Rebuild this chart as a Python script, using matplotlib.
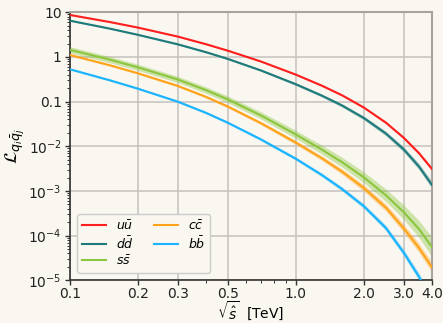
import numpy as np
import matplotlib
matplotlib.use("Agg")
import matplotlib.pyplot as plt
from matplotlib.ticker import FixedLocator, FixedFormatter, LogLocator, NullFormatter

# sqrt(s_hat) in TeV
x = [0.1, 0.15, 0.2, 0.3, 0.4, 0.5, 0.7, 1.0, 1.3, 1.6, 2.0, 2.5, 3.0, 3.5, 4.0]

# central luminosities
lum_uu = [8.71, 6.05, 4.54, 2.86, 1.93, 1.38, 0.792, 0.402, 0.229, 0.139, 0.0736, 0.0340, 0.01556, 0.00708, 0.00313]
lum_dd = [6.49, 4.31, 3.13, 1.92, 1.28, 0.904, 0.500, 0.245, 0.137, 0.0822, 0.0429, 0.0194, 0.00855, 0.00355, 0.00137]
lum_ss = [1.445, 0.871, 0.585, 0.313, 0.181, 0.112, 0.0491, 0.0184, 0.00849, 0.00442, 0.00202, 8.07e-4, 3.37e-4, 1.42e-4, 5.62e-5]
lum_cc = [1.107, 0.653, 0.431, 0.225, 0.128, 0.0776, 0.0330, 0.0121, 0.00545, 0.00272, 0.00116, 4.27e-4, 1.46e-4, 5.37e-5, 1.97e-5]
lum_bb = [0.530, 0.301, 0.195, 0.100, 0.0562, 0.0337, 0.0143, 0.00526, 0.0023, 0.00111, 4.56e-4, 1.49e-4, 4.18e-5, 1.22e-5, 3.66e-6]

# band half widths (decades)
err_uu = [0.01, 0.01, 0.01, 0.01, 0.012, 0.012, 0.014, 0.016, 0.018, 0.02, 0.022, 0.026, 0.03, 0.035, 0.04]
err_dd = [0.015, 0.015, 0.016, 0.017, 0.018, 0.02, 0.024, 0.028, 0.032, 0.036, 0.04, 0.048, 0.056, 0.065, 0.075]
err_ss = [0.07, 0.07, 0.07, 0.07, 0.072, 0.075, 0.08, 0.09, 0.1, 0.11, 0.12, 0.14, 0.16, 0.19, 0.22]
err_cc = [0.02, 0.02, 0.022, 0.025, 0.028, 0.03, 0.035, 0.045, 0.05, 0.06, 0.07, 0.08, 0.09, 0.1, 0.11]
err_bb = [0.02, 0.02, 0.02, 0.022, 0.024, 0.026, 0.03, 0.035, 0.04, 0.045, 0.05, 0.06, 0.07, 0.08, 0.09]

labels = [r'$u\bar{u}$', r'$d\bar{d}$', r'$s\bar{s}$', r'$c\bar{c}$', r'$b\bar{b}$']
colors = ['#ff1f1f', '#1f7b7b', '#8cc63f', '#ffa31a', '#1ab4ff']

xticks = [0.1, 0.2, 0.3, 0.5, 1.0, 2.0, 3.0, 4.0]
xticklabels = ['0.1', '0.2', '0.3', '0.5', '1.0', '2.0', '3.0', '4.0']
yticks = [1e-5, 1e-4, 1e-3, 1e-2, 0.1, 1, 10]
yticklabels = [r'$10^{-5}$', r'$10^{-4}$', r'$10^{-3}$', r'$10^{-2}$', '0.1', '1', '10']

bg = '#faf7f0'
fig = plt.figure(figsize=(4.43, 3.23), dpi=100, facecolor=bg)
ax = fig.add_axes([0.158, 0.132, 0.817, 0.830], facecolor=bg)

series = [(lum_uu, err_uu), (lum_dd, err_dd), (lum_ss, err_ss), (lum_cc, err_cc), (lum_bb, err_bb)]
for (lum, err), c, lab in zip(series, colors, labels):
  lum = np.array(lum)
  w = 10 ** np.array(err)
  ax.fill_between(x, lum / w, lum * w, color=c, alpha=0.4, lw=0, zorder=2)
  ax.plot(x, lum, color=c, lw=1.5, label=lab, zorder=3)

ax.set_xscale('log')
ax.set_yscale('log')
ax.set_xlim(0.1, 4.0)
ax.set_ylim(1e-5, 10)

ax.xaxis.set_major_locator(FixedLocator(xticks))
ax.xaxis.set_major_formatter(FixedFormatter(xticklabels))
ax.xaxis.set_minor_locator(LogLocator(base=10, subs=np.arange(2, 10)))
ax.xaxis.set_minor_formatter(NullFormatter())
ax.yaxis.set_major_locator(FixedLocator(yticks))
ax.yaxis.set_major_formatter(FixedFormatter(yticklabels))
ax.yaxis.set_minor_locator(LogLocator(base=10, subs=np.arange(2, 10), numticks=20))
ax.yaxis.set_minor_formatter(NullFormatter())

ax.grid(True, which='major', color='#c9c5c1', lw=1.2, zorder=0)
ax.set_axisbelow(True)
ax.tick_params(which='both', direction='out', colors='#333333', labelcolor='#222222', labelsize=10, top=False, right=False)
ax.tick_params(which='major', length=3.5, width=1, pad=2.5)
ax.tick_params(axis='x', which='major', pad=1.5)
ax.tick_params(which='minor', length=2, width=0.7)
for s in ['left', 'bottom']:
  ax.spines[s].set_color('#333333')
  ax.spines[s].set_linewidth(1.2)
for s in ['top', 'right']:
  ax.spines[s].set_color('#a8a4a0')
  ax.spines[s].set_linewidth(1.5)

ax.set_xlabel(r'$\sqrt{\hat{s}}$  [TeV]', fontsize=10)
ax.xaxis.set_label_coords(0.5, -0.073)
ax.set_ylabel(r'$\mathcal{L}_{q_i\bar{q}_j}$', fontsize=13)
ax.yaxis.set_label_coords(-0.118, 0.5)

leg = ax.legend(loc='lower left', ncol=2, fontsize=9, frameon=True, fancybox=True,
                facecolor=bg, edgecolor='#cccccc', framealpha=1.0,
                handlelength=1.9, labelspacing=0.2, columnspacing=1.6,
                borderaxespad=0.6)

fig.savefig('out.png', dpi=100, facecolor=bg)
